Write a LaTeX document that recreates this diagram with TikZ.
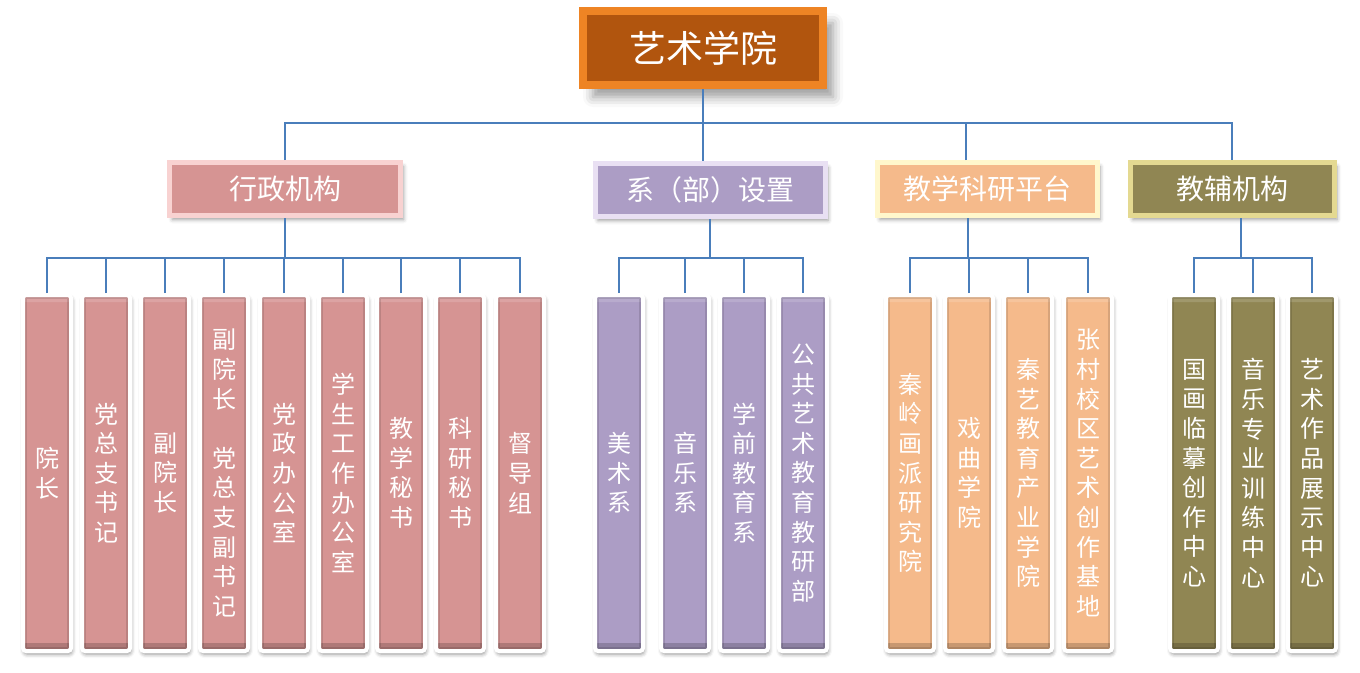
\documentclass[tikz,border=0pt]{standalone}
\usepackage{fontspec}
\newfontfamily\cjk{Noto Sans CJK SC}
\usepackage{tikz}
\usetikzlibrary{positioning, shadows, shadows.blur}
\usepackage{xcolor}

\definecolor{lineblue}{HTML}{4A7EBB}
\definecolor{rust}{HTML}{B1550E}
\definecolor{rustlight}{HTML}{EE8424}
\definecolor{rose}{HTML}{D69493}
\definecolor{roselight}{HTML}{F8D2D1}
\definecolor{lilac}{HTML}{AC9DC5}
\definecolor{lilaclight}{HTML}{E9E0F3}
\definecolor{peach}{HTML}{F5BA8B}
\definecolor{peachlight}{HTML}{FFF7CC}
\definecolor{olive}{HTML}{908653}
\definecolor{olivelight}{HTML}{E4D991}

\tikzset{
    link/.style={lineblue, line width=1.4pt},
    topbox/.style={fill=rust, draw=rustlight, line width=8pt, minimum width=240pt, minimum height=74pt,
        text=white, font=\cjk\fontsize{37}{40}\selectfont,
        blur shadow={shadow xshift=10pt, shadow yshift=-12pt, shadow blur radius=10pt, shadow opacity=40}},
    headbox/.style={line width=5pt, minimum height=53pt, text=white, font=\cjk\fontsize{28}{32}\selectfont,
        blur shadow={shadow xshift=3pt, shadow yshift=-4pt, shadow blur radius=4pt, shadow opacity=40}},
    pillar/.style={draw=white, line width=4pt, rounded corners=3pt, minimum width=48pt, minimum height=356pt,
        text=white, align=center, font=\cjk\fontsize{24}{29.6}\selectfont,
        blur shadow={shadow xshift=1pt, shadow yshift=-3pt, shadow blur radius=4pt, shadow opacity=45},
        path picture={
            \fill[black, opacity=0.18] (path picture bounding box.south west) rectangle ([yshift=8pt]path picture bounding box.south east);
            \fill[white, opacity=0.15] ([yshift=-7pt]path picture bounding box.north west) rectangle (path picture bounding box.north east);
            \draw[black, opacity=0.12, line width=1.5pt, sharp corners] ([xshift=3pt,yshift=3pt]path picture bounding box.south west) rectangle ([xshift=-3pt,yshift=-3pt]path picture bounding box.north east);
        }},
}

\begin{document}
\begin{tikzpicture}[x=1pt, y=-1pt]
    \useasboundingbox (0,0) rectangle (1360,672);

    % top and second level
    \node[topbox] (art) at (703,48) {艺术学院};

    \node[headbox, fill=rose, draw=roselight, minimum width=231pt] (admin) at (285,189) {行政机构};
    \node[headbox, fill=lilac, draw=lilaclight, minimum width=230pt] (dept) at (710,190) {系（部）设置};
    \node[headbox, fill=peach, draw=peachlight, minimum width=220pt] (platform) at (987,189) {教学科研平台};
    \node[headbox, fill=olive, draw=olivelight, minimum width=204pt] (support) at (1232,189) {教辅机构};

    % 行政机构
    \node[pillar, fill=rose] (a1) at (47,473) {院\\长};
    \node[pillar, fill=rose] (a2) at (106,473) {党\\总\\支\\书\\记};
    \node[pillar, fill=rose] (a3) at (165,473) {副\\院\\长};
    \node[pillar, fill=rose] (a4) at (224,473) {副\\院\\长\\~\\党\\总\\支\\副\\书\\记};
    \node[pillar, fill=rose] (a5) at (284,473) {党\\政\\办\\公\\室};
    \node[pillar, fill=rose] (a6) at (343,473) {学\\生\\工\\作\\办\\公\\室};
    \node[pillar, fill=rose] (a7) at (401,473) {教\\学\\秘\\书};
    \node[pillar, fill=rose] (a8) at (460,473) {科\\研\\秘\\书};
    \node[pillar, fill=rose] (a9) at (520,473) {督\\导\\组};

    % 系（部）设置
    \node[pillar, fill=lilac] (d1) at (619,473) {美\\术\\系};
    \node[pillar, fill=lilac] (d2) at (685,473) {音\\乐\\系};
    \node[pillar, fill=lilac] (d3) at (744,473) {学\\前\\教\\育\\系};
    \node[pillar, fill=lilac] (d4) at (803,473) {公\\共\\艺\\术\\教\\育\\教\\研\\部};

    % 教学科研平台
    \node[pillar, fill=peach] (p1) at (910,473) {秦\\岭\\画\\派\\研\\究\\院};
    \node[pillar, fill=peach] (p2) at (969,473) {戏\\曲\\学\\院};
    \node[pillar, fill=peach] (p3) at (1028,473) {秦\\艺\\教\\育\\产\\业\\学\\院};
    \node[pillar, fill=peach] (p4) at (1088,473) {张\\村\\校\\区\\艺\\术\\创\\作\\基\\地};

    % 教辅机构
    \node[pillar, fill=olive] (s1) at (1194,473) {国\\画\\临\\摹\\创\\作\\中\\心};
    \node[pillar, fill=olive] (s2) at (1253,473) {音\\乐\\专\\业\\训\\练\\中\\心};
    \node[pillar, fill=olive] (s3) at (1312,473) {艺\\术\\作\\品\\展\\示\\中\\心};

    % connectors
    \coordinate (trunk) at (703,123);
    \draw[link] (art.south) -- (trunk);
    \draw[link] (admin.north) |- (trunk) -| (support.north);
    \draw[link] (trunk) -- ([xshift=-7pt]dept.north);
    \draw[link] ([xshift=-21pt]platform.north) -- ([xshift=-21pt]platform.north |- trunk);

    \coordinate (adminbus) at (285,258);
    \draw[link] (admin.south) -- (adminbus);
    \draw[link] (a1.north) |- (adminbus) -| (a9.north);
    \draw[link] (a2.north) -- (a2.north |- adminbus);
    \draw[link] (a3.north) -- (a3.north |- adminbus);
    \draw[link] (a4.north) -- (a4.north |- adminbus);
    \draw[link] (a5.north) -- (a5.north |- adminbus);
    \draw[link] (a6.north) -- (a6.north |- adminbus);
    \draw[link] (a7.north) -- (a7.north |- adminbus);
    \draw[link] (a8.north) -- (a8.north |- adminbus);

    \coordinate (deptbus) at (710,258);
    \draw[link] (dept.south) -- (deptbus);
    \draw[link] (d1.north) |- (deptbus) -| (d4.north);
    \draw[link] (d2.north) -- (d2.north |- deptbus);
    \draw[link] (d3.north) -- (d3.north |- deptbus);

    \coordinate (platformbus) at (968,258);
    \draw[link] ([xshift=-19pt]platform.south) -- (platformbus);
    \draw[link] (p1.north) |- (platformbus) -| (p4.north);
    \draw[link] (p2.north) -- (p2.north |- platformbus);
    \draw[link] (p3.north) -- (p3.north |- platformbus);

    \coordinate (supportbus) at (1241,258);
    \draw[link] ([xshift=9pt]support.south) -- (supportbus);
    \draw[link] (s1.north) |- (supportbus) -| (s3.north);
    \draw[link] (s2.north) -- (s2.north |- supportbus);
\end{tikzpicture}
\end{document}
